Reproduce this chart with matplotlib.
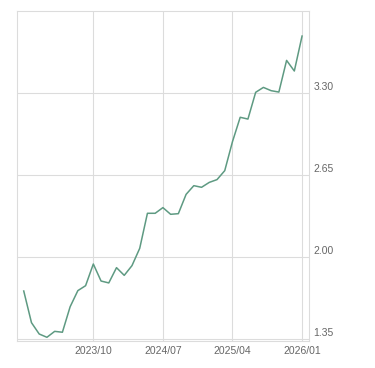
import matplotlib
matplotlib.use("Agg")
import matplotlib.pyplot as plt
import matplotlib.transforms as mtransforms
import numpy as np
import pandas as pd

# monthly values, 2023/01 .. 2026/01
values = [1.733, 1.482, 1.392, 1.366, 1.413, 1.406, 1.608, 1.736, 1.775, 1.947,
          1.812, 1.797, 1.918, 1.857, 1.934, 2.071, 2.349, 2.349, 2.394, 2.341,
          2.346, 2.499, 2.568, 2.555, 2.594, 2.616, 2.687, 2.917, 3.110, 3.096,
          3.308, 3.347, 3.321, 3.310, 3.561, 3.477, 3.754]
months = pd.date_range("2023-01-01", periods=len(values), freq="MS").strftime("%Y/%m").tolist()
x_labels = ["2023/10", "2024/07", "2025/04", "2026/01"]
y_ticks = [1.35, 2.00, 2.65, 3.30]

fig = plt.figure(figsize=(3.75, 3.68), dpi=100)
ax = fig.add_axes([0.0462, 0.0742, 0.777, 0.895])

x = np.arange(len(values))
ax.plot(x, values, color="#5e9a82", lw=1.1)

ax.set_xlim(-0.83, 36.86)
ax.set_ylim(1.339, 3.95)

ax.set_xticks([months.index(m) for m in x_labels])
ax.set_xticklabels(x_labels)
ax.set_yticks(y_ticks)
ax.set_yticklabels(["%.2f" % v for v in y_ticks])
ax.yaxis.tick_right()

ax.grid(True, color="#dcdcdc", lw=0.8)
ax.set_axisbelow(True)
for s in ax.spines.values():
    s.set_color("#dcdcdc")
    s.set_linewidth(0.8)

ax.tick_params(length=0, labelsize=7.5, colors="#666666", pad=3.5)
for lab in ax.get_xticklabels() + ax.get_yticklabels():
    lab.set_fontfamily("Liberation Sans")

off = mtransforms.ScaledTranslation(0, 0.8 / 72, fig.dpi_scale_trans)
for lab in ax.get_yticklabels():
    lab.set_verticalalignment("bottom")
    lab.set_transform(lab.get_transform() + off)

fig.savefig("out.png", dpi=100)
